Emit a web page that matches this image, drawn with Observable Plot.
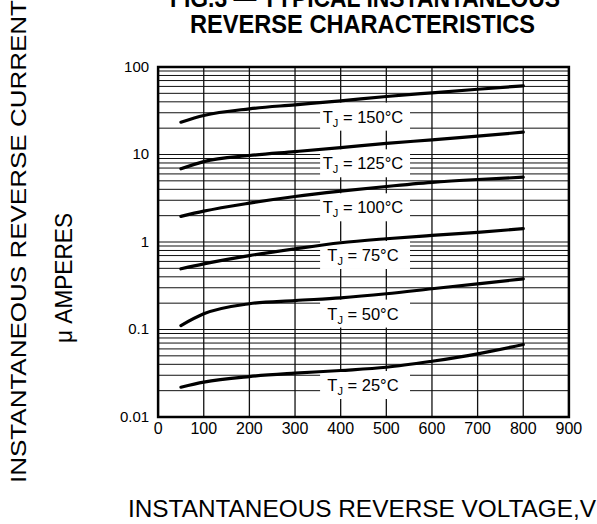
<!DOCTYPE html>
<html><head><meta charset="utf-8">
<script src="https://cdn.jsdelivr.net/npm/d3@7"></script>
<script src="https://cdn.jsdelivr.net/npm/@observablehq/plot@0.6"></script>
<style>body{margin:0;background:#fff} svg{display:block}</style>
</head><body><div id="chart"></div>
<script>
// Reverse voltage (V) sample points
const voltage = [50, 100, 200, 300, 400, 500, 600, 700, 800];
// Junction temperatures (°C)
const temps = ["150", "125", "100", "75", "50", "25"];
// Instantaneous reverse current (µA) for each temperature
const current150 = [23.4, 27.9, 33.3, 37.0, 41.1, 46.0, 50.7, 55.7, 61.0];
const current125 = [6.86, 8.3, 9.74, 10.8, 12.0, 13.4, 14.7, 16.2, 18.0];
const current100 = [1.96, 2.25, 2.78, 3.31, 3.81, 4.31, 4.8, 5.18, 5.5];
const current75  = [0.494, 0.563, 0.70, 0.836, 0.98, 1.09, 1.19, 1.29, 1.42];
const current50  = [0.111, 0.151, 0.197, 0.214, 0.23, 0.256, 0.292, 0.333, 0.379];
const current25  = [0.0219, 0.025, 0.029, 0.0317, 0.034, 0.037, 0.0434, 0.0527, 0.0674];
// Label anchor positions (voltage, current)
const labelVoltage = 450;
const labelCurrent = [26.7, 7.83, 2.46, 0.701, 0.150, 0.0229];
// Tick labels
const xTicks = [0, 100, 200, 300, 400, 500, 600, 700, 800, 900];
const yTicks = [0.01, 0.1, 1, 10, 100];
const yTickLabels = ["0.01", "0.1", "1", "10", "100"];

const series = [current150, current125, current100, current75, current50, current25];
const rows = temps.flatMap((t, i) => voltage.map((v, j) => ({temp: t, v, c: series[i][j]})));
const labels = temps.map((t, i) => ({temp: t, v: labelVoltage, c: labelCurrent[i]}));
const gridY = yTicks.slice(0, -1).flatMap(d => [1,2,3,4,5,6,7,8,9].map(k => d * k)).concat([100]);
const gridX = xTicks.slice(1, -1);

const chart = Plot.plot({
  width: 597,
  height: 524,
  marginLeft: 157.6,
  marginRight: 28.6,
  marginTop: 66.5,
  marginBottom: 107.5,
  style: {fontFamily: "'Liberation Sans', Arial, sans-serif", background: "white", color: "black"},
  x: {domain: [0, 900], ticks: xTicks},
  y: {type: "log", domain: [0.01, 100], ticks: yTicks},
  marks: [
    Plot.ruleY(gridY, {stroke: "#111", strokeWidth: 1}),
    Plot.ruleX(gridX, {stroke: "#111", strokeWidth: 1.3}),
    Plot.rect(labels, {x1: d => d.v - 94, x2: d => d.v + 103, y1: d => d.c / 1.445, y2: d => d.c * 1.445, fill: "white"}),
    Plot.line(rows, {x: "v", y: "c", z: "temp", stroke: "black", strokeWidth: 3.2, curve: "monotone-x"}),
    Plot.frame({stroke: "black", strokeWidth: 2.5}),
    Plot.axisY(yTicks, {tickSize: 0, tickPadding: 9, fontSize: 15, tickFormat: d => yTickLabels[yTicks.indexOf(d)], label: null}),
    Plot.axisX(xTicks, {tickSize: 0, tickPadding: 6, fontSize: 16, tickFormat: d => String(d), label: null})
  ]
});

document.getElementById("chart").appendChild(chart);

const svg = d3.select(chart);
const sx = chart.scale("x"), sy = chart.scale("y");
const ff = "'Liberation Sans', Arial, sans-serif";

// Temperature labels
labels.forEach(d => {
  const t = svg.append("text")
    .attr("x", sx.apply(d.v)).attr("y", sy.apply(d.c) + 6)
    .attr("text-anchor", "middle").attr("font-family", ff).attr("font-size", 16.5).attr("fill", "black");
  t.append("tspan").text("T");
  t.append("tspan").attr("font-size", 11).attr("dy", 4).text("J");
  t.append("tspan").attr("dy", -4).text(" = " + d.temp + "°C");
});

function label(x, y, text, size, len, opts = {}) {
  const el = svg.append("text").attr("font-family", ff).attr("font-size", size)
    .attr("text-anchor", "start").attr("fill", "black")
    .attr("textLength", len).attr("lengthAdjust", "spacingAndGlyphs").text(text);
  if (opts.rotate) el.attr("transform", `translate(${x},${y}) rotate(-90)`);
  else el.attr("x", x).attr("y", y);
  if (opts.bold) el.attr("font-weight", "bold");
  return el;
}

// Title
label(170, 7, "FIG.3 — TYPICAL INSTANTANEOUS", 25, 390, {bold: true});
label(190, 33.3, "REVERSE CHARACTERISTICS", 25, 345, {bold: true});

// Y axis labels
label(25.7, 483, "INSTANTANEOUS REVERSE CURRENT", 22, 483, {rotate: true});
label(71.7, 343, "μ AMPERES", 23, 130, {rotate: true});

// X axis label
label(128, 516.7, "INSTANTANEOUS REVERSE VOLTAGE,V", 23.3, 468);
</script></body></html>
